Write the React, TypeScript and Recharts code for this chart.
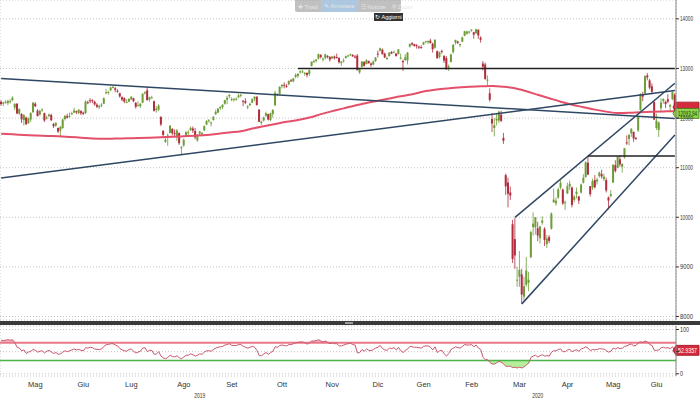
import React from "react";
import { ComposedChart, Bar, Line, Area, XAxis, YAxis, CartesianGrid, ReferenceLine } from "recharts";

// open, high, low, close per trading day
type Candle = [number, number, number, number];

const apr19: Candle[] = [
  [12330, 12360, 12250, 12282], [12290, 12330, 12240, 12315], [12320, 12360, 12290, 12328], [12300, 12370, 12260, 12344],
];
const may19: Candle[] = [
  [12340, 12380, 12290, 12346], [12360, 12440, 12340, 12412], [12210, 12300, 12160, 12286], [12290, 12300, 12080, 12093],
  [12090, 12200, 12060, 12180], [12080, 12100, 11900, 11974], [11960, 12080, 11850, 12059], [12010, 12030, 11860, 11877],
  [11900, 12010, 11880, 11992], [11970, 12120, 11920, 12100], [12120, 12320, 12100, 12310], [12290, 12320, 12220, 12239],
  [12150, 12180, 12030, 12041], [12070, 12170, 12050, 12143], [12150, 12200, 12130, 12169], [12100, 12110, 11920, 11952],
  [11990, 12050, 11970, 12011], [12040, 12090, 12020, 12071], [12060, 12090, 11940, 11957], [11880, 11900, 11800, 11837],
  [11850, 11920, 11820, 11903], [11800, 11810, 11700, 11727],
];
const jun19: Candle[] = [
  [11750, 11840, 11620, 11820], [11800, 11990, 11780, 11971], [11980, 12060, 11950, 12045], [12040, 12090, 11990, 12009],
  [12030, 12110, 12010, 12045], [12080, 12130, 12060, 12097], [12110, 12210, 12100, 12155], [12140, 12150, 12080, 12115],
  [12100, 12180, 12080, 12169], [12140, 12160, 12060, 12096], [12110, 12130, 12060, 12086], [12100, 12360, 12080, 12332],
  [12320, 12350, 12280, 12309], [12360, 12400, 12300, 12355], [12360, 12380, 12300, 12340], [12330, 12350, 12250, 12275],
  [12270, 12300, 12200, 12228], [12220, 12270, 12180, 12245], [12270, 12300, 12220, 12271], [12290, 12420, 12280, 12399],
];
const jul19: Candle[] = [
  [12500, 12590, 12480, 12521], [12510, 12550, 12470, 12526], [12560, 12630, 12540, 12616], [12610, 12650, 12600, 12629],
  [12600, 12630, 12520, 12568], [12550, 12580, 12510, 12543], [12500, 12510, 12410, 12436], [12420, 12440, 12340, 12373],
  [12400, 12420, 12300, 12332], [12320, 12380, 12300, 12323], [12330, 12400, 12320, 12387], [12380, 12440, 12360, 12430],
  [12400, 12410, 12320, 12341], [12310, 12320, 12190, 12227], [12260, 12340, 12240, 12260], [12240, 12300, 12200, 12289],
  [12310, 12500, 12300, 12490], [12500, 12540, 12470, 12522], [12560, 12630, 12350, 12362], [12370, 12430, 12330, 12419],
  [12410, 12450, 12390, 12418], [12340, 12350, 12130, 12147], [12160, 12240, 12110, 12189],
];
const aug19: Candle[] = [
  [12170, 12280, 12140, 12253], [12020, 12040, 11840, 11872], [11740, 11760, 11620, 11659], [11520, 11640, 11500, 11567],
  [11620, 11690, 11440, 11650], [11700, 11860, 11690, 11845], [11780, 11800, 11650, 11694], [11700, 11770, 11640, 11680],
  [11630, 11780, 11540, 11750], [11700, 11710, 11460, 11493], [11400, 11440, 11270, 11412], [11450, 11590, 11420, 11563],
  [11650, 11740, 11630, 11715], [11700, 11760, 11660, 11712], [11760, 11830, 11740, 11803], [11790, 11830, 11700, 11747],
  [11740, 11800, 11570, 11612], [11550, 11670, 11520, 11658], [11690, 11740, 11640, 11730], [11680, 11720, 11630, 11702],
  [11750, 11850, 11740, 11838], [11870, 11960, 11860, 11939],
];
const sep19: Candle[] = [
  [11950, 11980, 11910, 11954], [11900, 11930, 11830, 11911], [11960, 12040, 11950, 12025], [12080, 12170, 12060, 12126],
  [12110, 12200, 12100, 12192], [12200, 12240, 12160, 12226], [12220, 12280, 12180, 12268], [12290, 12370, 12270, 12360],
  [12370, 12450, 12280, 12410], [12440, 12480, 12400, 12469], [12380, 12420, 12340, 12381], [12380, 12400, 12330, 12389],
  [12380, 12420, 12350, 12390], [12420, 12490, 12400, 12457], [12460, 12490, 12420, 12468], [12350, 12360, 12240, 12342],
  [12340, 12400, 12280, 12307], [12230, 12260, 12180, 12234], [12260, 12310, 12240, 12288], [12310, 12400, 12300, 12381],
  [12390, 12440, 12340, 12428],
];
const oct19: Candle[] = [
  [12430, 12440, 12250, 12264], [12170, 12180, 11920, 11925], [11900, 11950, 11860, 11926], [11950, 12030, 11930, 12013],
  [12050, 12130, 12020, 12097], [12080, 12090, 11950, 11970], [11960, 12110, 11940, 12094], [12080, 12180, 12010, 12164],
  [12260, 12550, 12240, 12512], [12470, 12500, 12440, 12487], [12490, 12640, 12470, 12630], [12640, 12680, 12600, 12670],
  [12670, 12720, 12600, 12654], [12650, 12690, 12610, 12634], [12680, 12760, 12660, 12748], [12760, 12790, 12730, 12754],
  [12740, 12810, 12720, 12798], [12830, 12900, 12800, 12872], [12850, 12900, 12810, 12895], [12920, 12960, 12900, 12942],
  [12940, 12970, 12910, 12940], [12900, 12930, 12850, 12910], [12910, 12920, 12820, 12867],
];
const nov19: Candle[] = [
  [12890, 12980, 12850, 12961], [13050, 13140, 13040, 13136], [13130, 13180, 13110, 13148], [13150, 13190, 13120, 13179],
  [13200, 13300, 13180, 13289], [13270, 13290, 13200, 13228], [13180, 13220, 13140, 13198], [13210, 13300, 13180, 13283],
  [13250, 13270, 13200, 13230], [13230, 13250, 13140, 13180], [13200, 13250, 13190, 13242], [13240, 13260, 13180, 13208],
  [13230, 13300, 13200, 13221], [13210, 13230, 13100, 13127], [13110, 13150, 13050, 13137], [13150, 13200, 13120, 13163],
  [13210, 13260, 13200, 13246], [13250, 13280, 13230, 13262], [13270, 13300, 13250, 13287], [13270, 13290, 13230, 13245],
  [13240, 13270, 13200, 13236],
];
const dec19: Candle[] = [
  [13260, 13290, 12960, 12965], [12920, 12990, 12890, 12989], [13030, 13150, 13020, 13140], [13130, 13150, 13040, 13055],
  [13090, 13190, 13080, 13167], [13150, 13160, 13100, 13105], [13100, 13120, 13030, 13071], [13080, 13160, 13060, 13141],
  [13150, 13230, 13130, 13222], [13300, 13360, 13220, 13283], [13360, 13420, 13340, 13407], [13380, 13400, 13280, 13288],
  [13300, 13320, 13210, 13222], [13210, 13240, 13170, 13211], [13250, 13330, 13240, 13319], [13330, 13350, 13290, 13300],
  [13320, 13360, 13310, 13337], [13300, 13310, 13240, 13249],
];
const jan20: Candle[] = [
  [13290, 13390, 13280, 13386], [13200, 13300, 13180, 13219], [13150, 13180, 12950, 13127], [13170, 13290, 13150, 13227],
  [13160, 13330, 13080, 13320], [13440, 13500, 13420, 13495], [13510, 13530, 13460, 13483], [13490, 13500, 13440, 13452],
  [13470, 13490, 13400, 13456], [13440, 13460, 13390, 13432], [13430, 13470, 13400, 13429], [13480, 13540, 13470, 13526],
  [13530, 13560, 13510, 13549], [13530, 13560, 13490, 13556], [13560, 13600, 13500, 13515], [13500, 13520, 13320, 13389],
  [13420, 13590, 13400, 13577], [13350, 13360, 13200, 13205], [13230, 13340, 13200, 13324], [13350, 13380, 13300, 13345],
  [13250, 13270, 13110, 13158], [13210, 13250, 12980, 12982],
];
const feb20: Candle[] = [
  [13020, 13080, 12950, 13046], [13130, 13300, 13120, 13281], [13330, 13490, 13300, 13479], [13520, 13580, 13480, 13575],
  [13540, 13560, 13490, 13514], [13470, 13500, 13430, 13494], [13540, 13640, 13530, 13628], [13660, 13760, 13650, 13750],
  [13700, 13760, 13680, 13745], [13740, 13760, 13700, 13744], [13770, 13790, 13740, 13784], [13730, 13740, 13600, 13681],
  [13710, 13800, 13700, 13789], [13780, 13790, 13600, 13665], [13620, 13650, 13520, 13579], [13100, 13150, 12960, 13035],
  [13080, 13120, 12770, 12790], [12770, 12860, 12650, 12775], [12500, 12600, 12330, 12367], [11980, 12100, 11720, 11890],
];
const mar20: Candle[] = [
  [11800, 12000, 11630, 11857], [11950, 12100, 11850, 11985], [11950, 12150, 11900, 12128], [12070, 12150, 11920, 11944],
  [11600, 11700, 11480, 11542], [10850, 10880, 10450, 10625], [10700, 10800, 10200, 10475], [10500, 10620, 10350, 10439],
  [9860, 9950, 9080, 9161], [9560, 9985, 8960, 9232], [8740, 9000, 8600, 8742], [8800, 9320, 8600, 8939],
  [8850, 8960, 8255, 8442], [8400, 8800, 8330, 8610], [8640, 9200, 8600, 8929], [8680, 8900, 8510, 8742],
  [9190, 9730, 9190, 9701], [9800, 10100, 9630, 9874], [9800, 10000, 9650, 10000], [9780, 9910, 9520, 9633],
  [9580, 9830, 9470, 9816], [9890, 10020, 9850, 9936],
];
const apr20: Candle[] = [
  [9770, 9800, 9420, 9544], [9460, 9640, 9380, 9571], [9600, 9640, 9480, 9526], [9770, 10100, 9750, 10075],
  [10300, 10580, 10300, 10357], [10280, 10400, 10230, 10333], [10400, 10600, 10370, 10565], [10600, 10760, 10560, 10696],
  [10560, 10580, 10250, 10280], [10300, 10340, 10150, 10301], [10480, 10700, 10470, 10626], [10620, 10740, 10550, 10676],
  [10600, 10620, 10200, 10250], [10350, 10450, 10300, 10416], [10470, 10600, 10380, 10514], [10420, 10430, 10270, 10337],
  [10500, 10680, 10480, 10660], [10700, 10870, 10680, 10796], [10810, 11130, 10800, 11107], [11100, 11240, 10850, 10862],
];
const may20: Candle[] = [
  [10630, 10630, 10420, 10467], [10600, 10780, 10550, 10730], [10750, 10850, 10580, 10606], [10720, 10800, 10660, 10760],
  [10830, 10920, 10800, 10904], [10870, 10960, 10780, 10824], [10770, 10880, 10730, 10820], [10750, 10800, 10500, 10542],
  [10400, 10420, 10160, 10337], [10430, 10550, 10400, 10465], [10700, 11070, 10690, 11058], [11050, 11150, 10900, 10934],
  [11000, 11230, 10990, 11223], [11170, 11250, 11020, 11065], [11020, 11090, 10900, 11074], [11210, 11400, 11180, 11391],
  [11510, 11650, 11460, 11504], [11580, 11680, 11450, 11657], [11690, 11800, 11620, 11781], [11720, 11730, 11520, 11587],
];
const jun20: Candle[] = [
  [11600, 11620, 11560, 11590], [11750, 12040, 11720, 12021], [12160, 12500, 12150, 12487], [12470, 12530, 12340, 12431],
  [12500, 12860, 12480, 12848], [12860, 12910, 12760, 12820], [12760, 12790, 12580, 12614], [12640, 12700, 12480, 12530],
  [12320, 12340, 11960, 11970], [11800, 12090, 11760, 11949], [11760, 11930, 11620, 11911], [12200, 12400, 12150, 12315],
  [12340, 12400, 12290, 12382], [12330, 12350, 12200, 12281], [12380, 12480, 12300, 12331], [12230, 12290, 12120, 12262],
  [12380, 12540, 12360, 12523], [12470, 12500, 12070, 12093.94],
];

const monthBlocks = [
  { label: "", year: "2019", candles: apr19 },
  { label: "Mag", year: "2019", candles: may19 },
  { label: "Giu", year: "2019", candles: jun19 },
  { label: "Lug", year: "2019", candles: jul19 },
  { label: "Ago", year: "2019", candles: aug19 },
  { label: "Set", year: "2019", candles: sep19 },
  { label: "Ott", year: "2019", candles: oct19 },
  { label: "Nov", year: "2019", candles: nov19 },
  { label: "Dic", year: "2019", candles: dec19 },
  { label: "Gen", year: "2020", candles: jan20 },
  { label: "Feb", year: "2020", candles: feb20 },
  { label: "Mar", year: "2020", candles: mar20 },
  { label: "Apr", year: "2020", candles: apr20 },
  { label: "Mag", year: "2020", candles: may20 },
  { label: "Giu", year: "2020", candles: jun20 },
];

// RSI(14), one value per trading day, grouped by month
const rsi14 = [
  76, 75, 76, 77,
  76, 77, 70, 60, 58, 52, 54, 46, 49, 51, 55, 53, 49, 51, 52, 47, 51, 53, 49, 46, 48, 44,
  45, 49, 52, 50, 52, 54, 56, 54, 55, 53, 52, 59, 58, 60, 59, 56, 55, 55, 56, 62,
  66, 66, 68, 68, 65, 63, 57, 54, 52, 51, 55, 56, 51, 47, 49, 51, 58, 59, 50, 53, 53, 44, 45,
  50, 40, 36, 34, 37, 42, 39, 38, 41, 36, 34, 38, 42, 42, 45, 43, 40, 42, 45, 44, 49, 52,
  52, 51, 55, 58, 60, 61, 62, 65, 66, 68, 64, 64, 64, 66, 66, 62, 60, 58, 60, 62, 60,
  53, 41, 41, 45, 48, 44, 48, 51, 61, 60, 64, 65, 64, 63, 66, 66, 68, 70, 71, 72, 72, 70, 67,
  70, 74, 74, 75, 77, 74, 72, 74, 71, 68, 70, 68, 68, 63, 63, 65, 67, 68, 69, 66, 65,
  47, 48, 55, 51, 56, 53, 52, 55, 58, 60, 64, 57, 54, 53, 58, 57, 59, 54,
  60, 52, 48, 53, 56, 62, 61, 60, 60, 59, 58, 62, 63, 63, 60, 54, 61, 48, 52, 53, 45, 40,
  46, 55, 58, 61, 59, 58, 62, 66, 65, 65, 66, 61, 65, 58, 55, 37, 32, 32, 26, 22,
  22, 25, 28, 26, 22, 17, 17, 17, 14, 15, 13, 15, 13, 16, 20, 24, 37, 40, 42, 38, 41, 43,
  40, 41, 40, 49, 52, 52, 55, 56, 50, 50, 54, 55, 50, 53, 54, 51, 56, 58, 61, 58,
  52, 55, 54, 55, 57, 56, 56, 52, 49, 51, 58, 56, 59, 57, 58, 62, 63, 66, 67, 63,
  64, 70, 72, 71, 74, 72, 66, 64, 53, 53, 54, 59, 60, 58, 59, 57, 61, 52.9357,
];

// 200-day moving average, read every 5th trading day
const ma200Every5 = [
  11684, 11672, 11660, 11650, 11640, 11632, 11620, 11605, 11590, 11584,
  11586, 11592, 11598, 11604, 11612, 11622, 11634, 11645, 11660, 11685,
  11710, 11735, 11790, 11835, 11880, 11925, 11960, 12010, 12080, 12140,
  12195, 12255, 12305, 12350, 12395, 12440, 12480, 12535, 12570, 12595,
  12618, 12630, 12640, 12645, 12630, 12600, 12540, 12470, 12400, 12330,
  12270, 12220, 12170, 12130, 12100, 12105, 12118, 12128, 12135, 12140,
];

const priceTicks = [8000, 9000, 10000, 11000, 12000, 13000, 14000];
const rsiTicks = [0, 50, 100];

// trend lines drawn on the chart: [startDay, startValue, endDay, endValue]
const trendLines = [
  [0, 12800, 295, 11992],
  [0, 10792, 295, 12556],
  [225, 10000, 295, 12702],
  [228, 8255, 295, 11659],
];
const levelLines = [
  [130, 13000],
  [257, 11236],
];

type Row = { i: number; open: number; high: number; low: number; close: number; range: [number, number]; rsi: number; ma: number | null };

const rows: Row[] = [];
const monthStarts: number[] = [];
const monthMids: number[] = [];
const monthLabelAt: Record<number, string> = {};
const yearSpan: Record<string, [number, number]> = {};
monthBlocks.forEach((m) => {
  const start = rows.length;
  m.candles.forEach(([o, h, l, c]) => {
    const i = rows.length;
    rows.push({ i, open: o, high: h, low: l, close: c, range: [l, h], rsi: rsi14[i], ma: i % 5 === 0 ? ma200Every5[i / 5] : null });
  });
  if (start > 0) monthStarts.push(start);
  if (m.label) {
    const mid = start + Math.floor(m.candles.length / 2);
    monthMids.push(mid);
    monthLabelAt[mid] = m.label;
  }
  const span = yearSpan[m.year];
  yearSpan[m.year] = span ? [span[0], rows.length - 1] : [start, rows.length - 1];
});
const yearMids: number[] = [];
const yearLabelAt: Record<number, string> = {};
Object.keys(yearSpan).forEach((y) => {
  const mid = Math.round((yearSpan[y][0] + yearSpan[y][1]) / 2);
  yearMids.push(mid);
  yearLabelAt[mid] = y;
});
const yearStart2020 = yearSpan["2020"][0];
const lastRow = rows[rows.length - 1];

const FONT = "'Liberation Sans', Arial, sans-serif";

function CandleShape(props: any) {
  const { x, y, width, height, payload } = props;
  if (x == null || y == null) return null;
  const top = Math.min(y, y + height);
  const h = Math.abs(height);
  const span = payload.high - payload.low || 1;
  const toPx = (v: number) => top + ((payload.high - v) / span) * h;
  const cx = x + width / 2;
  const up = payload.close >= payload.open;
  const color = up ? "#6d9c38" : "#b02c3e";
  const bTop = toPx(Math.max(payload.open, payload.close));
  const bBot = toPx(Math.min(payload.open, payload.close));
  return (
    <g>
      <line x1={cx} x2={cx} y1={top} y2={top + h} stroke={color} strokeWidth={0.8} />
      <rect x={cx - 1} y={bTop} width={2} height={Math.max(1, bBot - bTop)} fill={color} />
    </g>
  );
}

function PriceTick(props: any) {
  const { x, y, payload } = props;
  return (
    <text x={x} y={y + 2.5} fontSize={7} fill="#333" fontFamily={FONT} textLength={13} lengthAdjust="spacingAndGlyphs">
      {payload.value}
    </text>
  );
}

function RsiTick(props: any) {
  const { x, y, payload } = props;
  if (payload.value === 50) return null;
  const s = String(payload.value);
  return (
    <text x={x} y={y + 2.5} fontSize={7} fill="#333" fontFamily={FONT} textLength={s.length * 3} lengthAdjust="spacingAndGlyphs">
      {s}
    </text>
  );
}

function MonthTick(props: any) {
  const { x, y, payload } = props;
  return (
    <text x={x} y={y + 10.5} fontSize={7.5} fill="#333" fontFamily={FONT} textAnchor="middle">
      {monthLabelAt[payload.value]}
    </text>
  );
}

function YearTick(props: any) {
  const { x, y, payload } = props;
  return (
    <text x={x} y={y + 8.5} fontSize={7} fill="#333" fontFamily={FONT} textAnchor="middle" textLength={11} lengthAdjust="spacingAndGlyphs">
      {yearLabelAt[payload.value]}
    </text>
  );
}

function ValueTag(props: any) {
  const { viewBox, text, fill, stroke, color, dy = 0 } = props;
  if (!viewBox) return null;
  const x = viewBox.x + viewBox.width;
  const y = viewBox.y + dy;
  return (
    <g>
      <polygon points={`${x - 3},${y} ${x},${y - 5} ${x + 23},${y - 5} ${x + 23},${y + 5} ${x},${y + 5}`} fill={fill} stroke={stroke} strokeWidth={0.8} />
      {text ? (
        <text x={x + 11.5} y={y + 2.4} textAnchor="middle" fontSize={7} fill={color} fontFamily={FONT} textLength={19} lengthAdjust="spacingAndGlyphs">
          {text}
        </text>
      ) : null}
    </g>
  );
}

export default function App() {
  return (
    <div style={{ position: "absolute", left: 0, top: 0, width: 700, height: 400, background: "#fff", fontFamily: FONT, overflow: "hidden" }}>
      <ComposedChart width={700} height={321} data={rows} margin={{ top: 0, right: 0, bottom: 0, left: 0 }} barCategoryGap={0}>
        <CartesianGrid stroke="#c4c4c4" strokeDasharray="1 2" />
        <XAxis dataKey="i" type="category" scale="band" ticks={monthStarts} interval={0} tick={false} tickLine={false} axisLine={false} height={1} />
        <YAxis
          orientation="right"
          domain={[7930, 14380]}
          allowDataOverflow
          ticks={priceTicks}
          interval={0}
          width={24}
          tickSize={3}
          tickMargin={1}
          axisLine={{ stroke: "#888" }}
          tickLine={{ stroke: "#333" }}
          tick={<PriceTick />}
        />
        <Bar dataKey="range" shape={<CandleShape />} isAnimationActive={false} />
        <Line dataKey="ma" type="monotone" connectNulls stroke="#e4506a" strokeWidth={2} dot={false} activeDot={false} isAnimationActive={false} />
        {trendLines.map((t, k) => (
          <ReferenceLine key={"t" + k} segment={[{ x: t[0], y: t[1] }, { x: t[2], y: t[3] }]} stroke="#2f4763" strokeWidth={1.5} />
        ))}
        {levelLines.map((l, k) => (
          <ReferenceLine key={"l" + k} segment={[{ x: l[0], y: l[1] }, { x: lastRow.i, y: l[1] }]} stroke="#222" strokeWidth={1.5} />
        ))}
        <ReferenceLine y={ma200Every5[ma200Every5.length - 1]} stroke="none" label={<ValueTag fill="#d62a3d" stroke="#a01020" dy={-4} />} />
        <ReferenceLine y={lastRow.close} stroke="none" label={<ValueTag text={lastRow.close.toFixed(2)} fill="#8fd24a" stroke="#3f7a16" color="#1c3a06" />} />
      </ComposedChart>

      <div style={{ position: "absolute", left: 0, top: 321, width: 700, height: 4, background: "#3a3a3a" }} />
      <div style={{ position: "absolute", left: 345, top: 322, width: 8, height: 2, background: "#9a9a9a" }} />

      <div style={{ position: "absolute", left: 0, top: 325 }}>
        <ComposedChart width={700} height={75} data={rows} margin={{ top: 1, right: 0, bottom: 0, left: 0 }}>
          <CartesianGrid xAxisId="msep" stroke="#c4c4c4" strokeDasharray="1 2" />
          <XAxis xAxisId="msep" dataKey="i" type="category" scale="band" ticks={monthStarts} interval={0} tick={false} tickSize={13} tickLine={{ stroke: "#aaa" }} axisLine={{ stroke: "#888" }} height={0} />
          <XAxis xAxisId="mlbl" dataKey="i" type="category" scale="band" ticks={monthMids} interval={0} tick={<MonthTick />} tickSize={0} tickMargin={0} tickLine={false} axisLine={false} height={13} />
          <XAxis xAxisId="ysep" dataKey="i" type="category" scale="band" ticks={[yearStart2020]} interval={0} tick={false} tickSize={11} tickLine={{ stroke: "#aaa" }} axisLine={false} height={0} />
          <XAxis xAxisId="ylbl" dataKey="i" type="category" scale="band" ticks={yearMids} interval={0} tick={<YearTick />} tickSize={0} tickMargin={0} tickLine={false} axisLine={false} height={11} />
          <YAxis
            orientation="right"
            domain={[-5, 108]}
            allowDataOverflow
            ticks={rsiTicks}
            interval={0}
            width={24}
            tickSize={3}
            tickMargin={1}
            axisLine={{ stroke: "#888" }}
            tickLine={{ stroke: "#333" }}
            tick={<RsiTick />}
          />
          <Area xAxisId="msep" dataKey={(d: Row) => [70, Math.max(d.rsi, 70)]} type="linear" stroke="none" fill="#f6b9c2" fillOpacity={1} isAnimationActive={false} />
          <Area xAxisId="msep" dataKey={(d: Row) => [30, Math.min(d.rsi, 30)]} type="linear" stroke="none" fill="#b6ef9c" fillOpacity={1} isAnimationActive={false} />
          <ReferenceLine xAxisId="msep" y={70} stroke="#e8798a" strokeWidth={2} />
          <ReferenceLine xAxisId="msep" y={30} stroke="#4cb34a" strokeWidth={1.5} />
          <Line xAxisId="msep" dataKey="rsi" type="linear" stroke="#c9586f" strokeWidth={1} dot={false} activeDot={false} isAnimationActive={false} />
          <ReferenceLine xAxisId="msep" y={lastRow.rsi} stroke="none" label={<ValueTag text={String(lastRow.rsi)} fill="#d62a3d" stroke="#a01020" color="#fff" />} />
        </ComposedChart>
      </div>

      <div style={{ position: "absolute", left: 295, top: 0, width: 106, height: 12, background: "rgba(140,140,140,0.55)", borderRadius: "0 0 2px 2px", display: "flex", alignItems: "center", fontSize: 6, color: "#e6e6e6", whiteSpace: "nowrap" }}>
        <span style={{ padding: "0 3px" }}>✚ Tratti</span>
        <span style={{ padding: "0 3px", background: "rgba(170,200,230,0.85)", height: 12, lineHeight: "12px" }}>✎ Annotare</span>
        <span style={{ padding: "0 3px" }}>☰ Notizie</span>
        <span style={{ padding: "0 3px" }}>⚲ Zoom</span>
      </div>
      <div style={{ position: "absolute", left: 374, top: 13, width: 29, height: 8, background: "#333", color: "#fff", fontSize: 5.5, lineHeight: "8px", textAlign: "center", whiteSpace: "nowrap" }}>
        ↻ Aggiorni
      </div>
    </div>
  );
}
